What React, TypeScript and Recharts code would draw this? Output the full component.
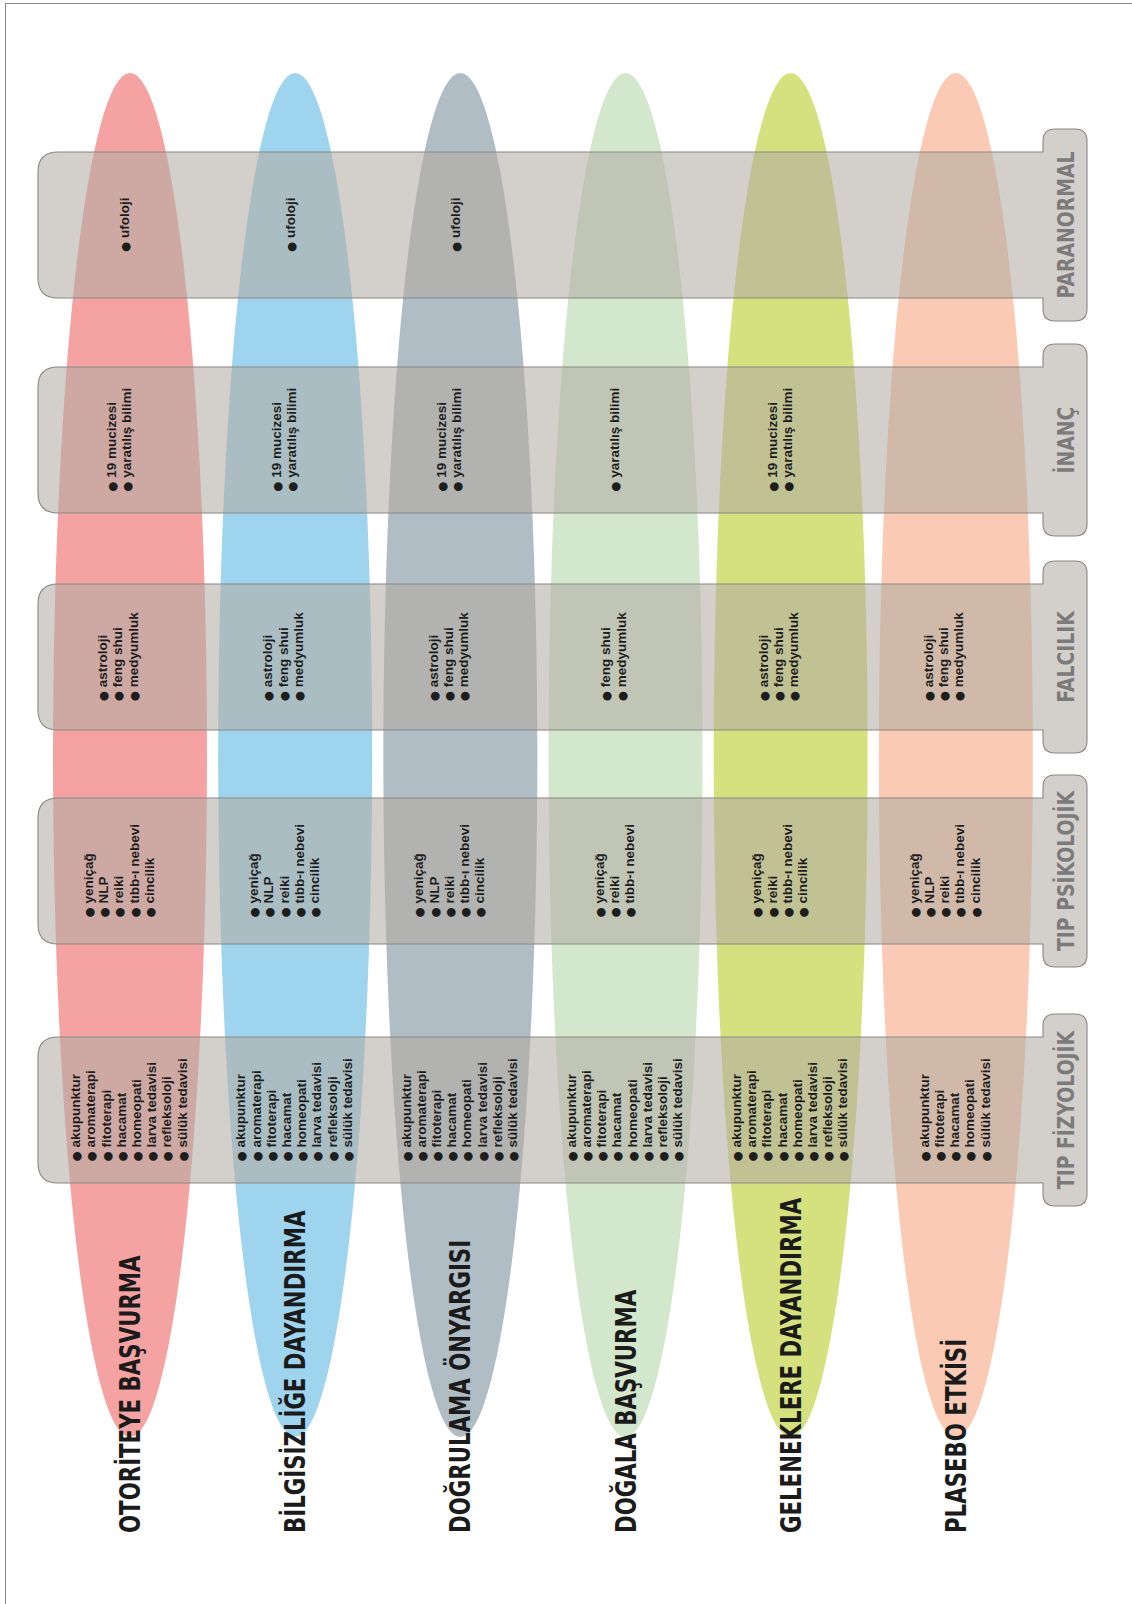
import React from 'react';
import { ComposedChart, XAxis, YAxis, Bar, Scatter } from 'recharts';

// columns: the six fallacies
const BIASES = [
  'OTORİTEYE BAŞVURMA',
  'BİLGİSİZLİĞE DAYANDIRMA',
  'DOĞRULAMA ÖNYARGISI',
  'DOĞALA BAŞVURMA',
  'GELENEKLERE DAYANDIRMA',
  'PLASEBO ETKİSİ',
];
const BIAS_COLORS = ['#f4a3a2', '#9ed4ee', '#b0bdc4', '#d3e7cc', '#d4e17e', '#fbcab4'];

// rows: the five pseudo-science groups
const CATEGORIES = ['PARANORMAL', 'İNANÇ', 'FALCILIK', 'TIP PSİKOLOJİK', 'TIP FİZYOLOJİK'];

const PARANORMAL = [['ufoloji'], ['ufoloji'], ['ufoloji'], [], [], []];
const INANC = [
  ['19 mucizesi', 'yaratılış bilimi'],
  ['19 mucizesi', 'yaratılış bilimi'],
  ['19 mucizesi', 'yaratılış bilimi'],
  ['yaratılış bilimi'],
  ['19 mucizesi', 'yaratılış bilimi'],
  [],
];
const FALCILIK = [
  ['astroloji', 'feng shui', 'medyumluk'],
  ['astroloji', 'feng shui', 'medyumluk'],
  ['astroloji', 'feng shui', 'medyumluk'],
  ['feng shui', 'medyumluk'],
  ['astroloji', 'feng shui', 'medyumluk'],
  ['astroloji', 'feng shui', 'medyumluk'],
];
const TIP_PSIKOLOJIK = [
  ['yeniçağ', 'NLP', 'reiki', 'tıbb-ı nebevi', 'cincilik'],
  ['yeniçağ', 'NLP', 'reiki', 'tıbb-ı nebevi', 'cincilik'],
  ['yeniçağ', 'NLP', 'reiki', 'tıbb-ı nebevi', 'cincilik'],
  ['yeniçağ', 'reiki', 'tıbb-ı nebevi'],
  ['yeniçağ', 'reiki', 'tıbb-ı nebevi', 'cincilik'],
  ['yeniçağ', 'NLP', 'reiki', 'tıbb-ı nebevi', 'cincilik'],
];
const FIZYOLOJIK_FULL = ['akupunktur', 'aromaterapi', 'fitoterapi', 'hacamat', 'homeopati', 'larva tedavisi', 'refleksoloji', 'sülük tedavisi'];
const TIP_FIZYOLOJIK = [
  FIZYOLOJIK_FULL,
  FIZYOLOJIK_FULL,
  FIZYOLOJIK_FULL,
  FIZYOLOJIK_FULL,
  FIZYOLOJIK_FULL,
  ['akupunktur', 'fitoterapi', 'hacamat', 'homeopati', 'sülük tedavisi'],
];
const ITEMS_BY_CATEGORY = [PARANORMAL, INANC, FALCILIK, TIP_PSIKOLOJIK, TIP_FIZYOLOJIK];

// page layout (px)
const W = 1132;
const H = 1604;
const FONT = '"Liberation Sans", Arial, Helvetica, sans-serif';
const HEAVY = '"DejaVu Sans", "Liberation Sans", sans-serif';
const ELLIPSE_SPAN = [73, 1437];
const BAND_TOPS = [152, 367, 584, 798, 1037];
const BAND_H = 146;
const BAND_LEFT = 38;
const BAND_RIGHT = 1043;
const TAB_RIGHT = 1087;
const TAB_OVER = 23;
const LABEL_Y = 1533;
const ITEM_FS = 13.5;
const BULLET_FS = 11.5;
const ITEM_LH = 15.2;
const ITEM_SHIFT = [-5, -11, -12, -11, -1];

const ctx = typeof document !== 'undefined' ? document.createElement('canvas').getContext('2d') : null;
const measure = (s: string) => {
  if (!ctx) return (s.length + 2) * ITEM_FS * 0.6;
  ctx.font = `${BULLET_FS}px ${HEAVY}`;
  const b = ctx.measureText('● ').width;
  ctx.font = `bold ${ITEM_FS}px ${FONT}`;
  return b + ctx.measureText(s).width;
};

const bandLongest = ITEMS_BY_CATEGORY.map((rows) => Math.max(...rows.flat().map((t) => measure(t))));

const columnData = BIASES.map((name, i) => ({ name, span: ELLIPSE_SPAN, color: BIAS_COLORS[i] }));

const bandData = CATEGORIES.map((name, i) => ({
  x: (BAND_LEFT + TAB_RIGHT) / 2,
  y: BAND_TOPS[i] + BAND_H / 2,
  name,
}));

const itemData = CATEGORIES.flatMap((cat, b) =>
  BIASES.map((bias, c) => ({
    name: bias,
    y: BAND_TOPS[b] + BAND_H / 2,
    items: ITEMS_BY_CATEGORY[b][c],
    half: bandLongest[b] / 2,
    shift: ITEM_SHIFT[b],
  })).filter((d) => d.items.length > 0)
);

const EllipseShape = (props: any) => {
  const { x, y, width, height, payload } = props;
  const top = Math.min(y, y + height);
  const h = Math.abs(height);
  const cx = x + width / 2;
  return (
    <g>
      <ellipse cx={cx} cy={top + h / 2} rx={width / 2} ry={h / 2} fill={payload.color} />
      <text
        transform={`translate(${cx + 10},${LABEL_Y}) rotate(-90) scale(0.775,1)`}
        fontFamily={HEAVY}
        fontWeight={700}
        fontSize={27.5}
        fill="#1b1b1b"
        textAnchor="start"
      >
        {payload.name}
      </text>
    </g>
  );
};

const BandShape = (props: any) => {
  const { cy, payload } = props;
  const top = cy - BAND_H / 2;
  const bot = cy + BAND_H / 2;
  const tTop = top - TAB_OVER;
  const tBot = bot + TAB_OVER;
  const r = 20;
  const rt = 12;
  const L = BAND_LEFT;
  const R = BAND_RIGHT;
  const T = TAB_RIGHT;
  const d = [
    `M ${L + r} ${top}`,
    `L ${R} ${top}`,
    `L ${R} ${tTop + rt}`,
    `Q ${R} ${tTop} ${R + rt} ${tTop}`,
    `L ${T - rt} ${tTop}`,
    `Q ${T} ${tTop} ${T} ${tTop + rt}`,
    `L ${T} ${tBot - rt}`,
    `Q ${T} ${tBot} ${T - rt} ${tBot}`,
    `L ${R + rt} ${tBot}`,
    `Q ${R} ${tBot} ${R} ${tBot - rt}`,
    `L ${R} ${bot}`,
    `L ${L + r} ${bot}`,
    `Q ${L} ${bot} ${L} ${bot - r}`,
    `L ${L} ${top + r}`,
    `Q ${L} ${top} ${L + r} ${top}`,
    'Z',
  ].join(' ');
  const tabCx = (R + T) / 2;
  return (
    <g>
      <path d={d} fill="#b4aca4" fillOpacity={0.58} stroke="#8a8784" strokeWidth={1.1} />
      <text
        transform={`translate(${tabCx + 8.6},${cy}) rotate(-90) scale(0.79,1)`}
        fontFamily={HEAVY}
        fontWeight={700}
        fontSize={23.8}
        fill="#7b7b7b"
        textAnchor="middle"
      >
        {payload.name}
      </text>
    </g>
  );
};

const ItemsShape = (props: any) => {
  const { cx, cy, payload } = props;
  const items: string[] = payload.items;
  const n = items.length;
  const startY = cy + payload.half;
  return (
    <g>
      {items.map((t, i) => {
        const lineCx = cx + payload.shift + (i - (n - 1) / 2) * ITEM_LH;
        return (
          <text
            key={t}
            transform={`translate(${lineCx + ITEM_FS * 0.36},${startY}) rotate(-90)`}
            fontFamily={FONT}
            fontWeight={700}
            fontSize={ITEM_FS}
            fill="#1e1e1e"
            textAnchor="start"
          >
            <tspan fontFamily={HEAVY} fontSize={BULLET_FS}>{'● '}</tspan>
            {t}
          </text>
        );
      })}
    </g>
  );
};

export default function App() {
  return (
    <div style={{ position: 'absolute', left: 0, top: 0, width: W, height: H, overflow: 'hidden', background: '#fff' }}>
      <div
        style={{
          position: 'absolute',
          left: 5,
          top: 3,
          width: W + 20,
          height: H + 20,
          borderLeft: '1.5px solid #8a8a8a',
          borderTop: '1.5px solid #8a8a8a',
        }}
      />
      <ComposedChart width={W} height={H} data={columnData} margin={{ top: 0, right: 0, bottom: 0, left: 0 }}>
        <XAxis xAxisId="col" dataKey="name" type="category" allowDuplicatedCategory={false} hide padding={{ left: 47, right: 94 }} />
        <XAxis xAxisId="page" dataKey="x" type="number" domain={[0, W]} hide />
        <YAxis yAxisId="page" dataKey="y" type="number" domain={[0, H]} reversed hide />
        <Bar xAxisId="col" yAxisId="page" dataKey="span" barSize={154} shape={EllipseShape} isAnimationActive={false} />
        <Scatter xAxisId="page" yAxisId="page" data={bandData} shape={BandShape} isAnimationActive={false} />
        <Scatter xAxisId="col" yAxisId="page" data={itemData} shape={ItemsShape} isAnimationActive={false} />
      </ComposedChart>
    </div>
  );
}
